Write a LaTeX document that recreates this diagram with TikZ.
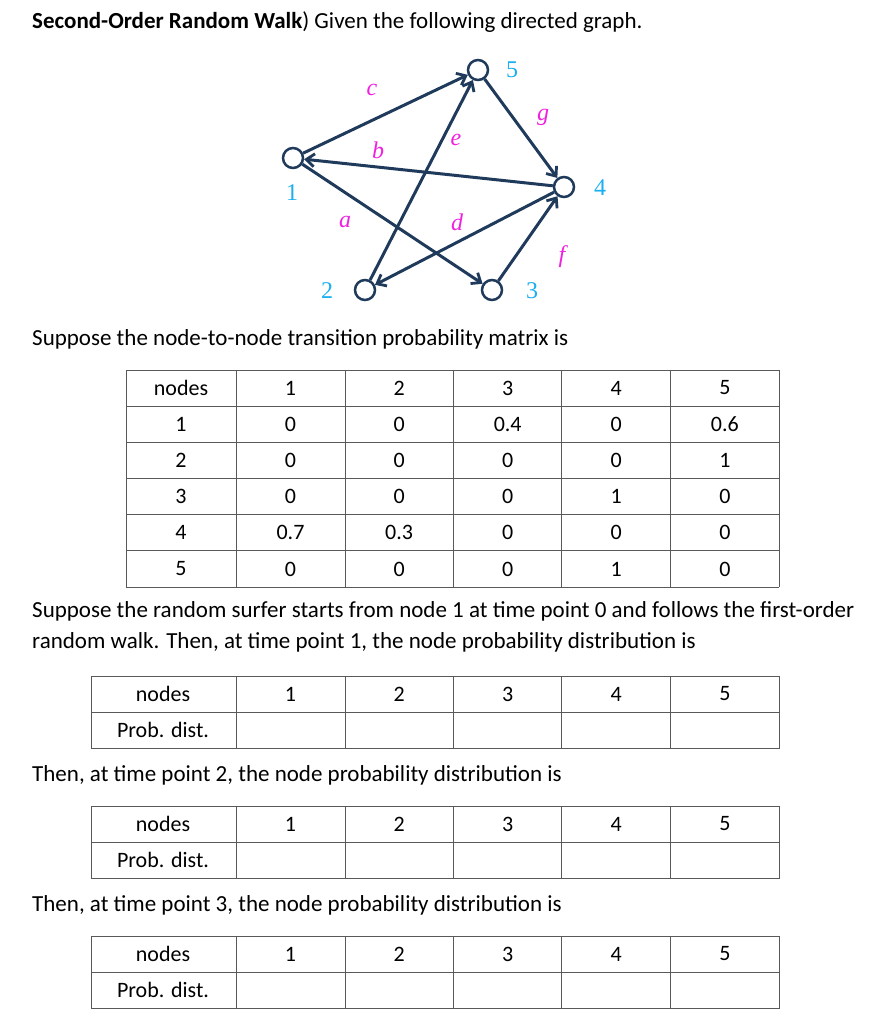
\documentclass[tikz,border=0pt]{standalone}
\usepackage{fontspec}
\setmainfont{Carlito}
\usetikzlibrary{arrows.meta}
\definecolor{navy}{HTML}{1F3A5A}
\definecolor{cy}{HTML}{1AAFEF}
\definecolor{mg}{HTML}{F020E0}
\begin{document}
\begin{tikzpicture}[x=1pt,y=-1pt,
  vtx/.style={circle,draw=navy,line width=2.5pt,fill=white,minimum size=20pt,inner sep=0},
  edge/.style={draw=navy,line width=3pt,-{Straight Barb[length=8pt,width=13pt,line width=2.8pt]}},
  num/.style={text=cy,font=\fontsize{24}{24}\selectfont\rmfamily\fontspec{Liberation Serif}},
  lab/.style={text=mg,font=\fontsize{24}{24}\selectfont\fontspec{Liberation Serif}\itshape},
  txt/.style={anchor=west,font=\fontsize{23}{31}\selectfont,inner sep=0},
  cell/.style={font=\fontsize{22}{22}\selectfont}]
\useasboundingbox (0,0) rectangle (888,1024);
\node[txt] (title) at (32,22) {\textbf{Second-Order Random Walk}) Given the following directed graph.};
\node[vtx] (n1) at (293,158) {};
\node[vtx] (n2) at (365,290) {};
\node[vtx] (n3) at (492,290) {};
\node[vtx] (n4) at (564,187) {};
\node[vtx] (n5) at (478,70) {};
\draw[edge] (n1) -- (n5);
\draw[edge] (n4) -- (n1);
\draw[edge] (n1) -- (n3);
\draw[edge] (n2) -- (n5);
\draw[edge] (n4) -- (n2);
\draw[edge] (n3) -- (n4);
\draw[edge] (n5) -- (n4);
\node[num] (l5) at (512,70) {5};
\node[num] (l4) at (600,188) {4};
\node[num] (l1) at (292,193) {1};
\node[num] (l2) at (327,291) {2};
\node[num] (l3) at (532,291) {3};
\node[lab] (lc) at (372,90) {c};
\node[lab] (lb) at (378,150) {b};
\node[lab] (le) at (456,140) {e};
\node[lab] (lg) at (543,117) {g};
\node[lab] (la) at (345,222) {a};
\node[lab] (ld) at (457,222) {d};
\node[lab] (lf) at (562,257) {f};
\node[txt] (t1) at (32,339) {Suppose the node-to-node transition probability matrix is};
\foreach \y in {370,406,442,478,514,550,587} \draw[gray!70!black] (126,\y) -- (779,\y);
\foreach \x in {126,236,345,453,561,670,779} \draw[gray!70!black] (\x,370) -- (\x,587);
\foreach \r [count=\i from 0] in {{nodes,1,2,3,4,5},{1,0,0,0.4,0,0.6},{2,0,0,0,0,1},{3,0,0,0,1,0},{4,0.7,0.3,0,0,0},{5,0,0,0,1,0}}{
  \foreach \v [count=\j from 0] in \r {
    \pgfmathsetmacro{\cx}{\j==0 ? 181 : 290.5+108.6*(\j-1)}
    \node[cell] (m\i\j) at (\cx,388+36.2*\i) {\v};
  }
}
\node[txt,align=left,anchor=north west] (t2) at (32,601) {Suppose the random surfer starts from node 1 at time point 0 and follows the first-order\\random walk. Then, at time point 1, the node probability distribution is};
\node[txt] (t3) at (32,775) {Then, at time point 2, the node probability distribution is};
\node[txt] (t4) at (32,905) {Then, at time point 3, the node probability distribution is};
\foreach \top [count=\k] in {676,806,936}{
  \draw[gray!70!black] (91,\top) rectangle (779,\top+72);
  \draw[gray!70!black] (91,\top+36) -- (779,\top+36);
  \foreach \x in {236,345,453,561,670} \draw[gray!70!black] (\x,\top) -- (\x,\top+72);
  \node[cell] (h\k) at (163,\top+18) {nodes};
  \node[cell] (p\k) at (163,\top+54) {Prob. dist.};
  \foreach \v [count=\j] in {1,...,5}
    \node[cell] (c\k\j) at (290.5+108.6*\j-108.6,\top+18) {\v};
}
\end{tikzpicture}
\end{document}
